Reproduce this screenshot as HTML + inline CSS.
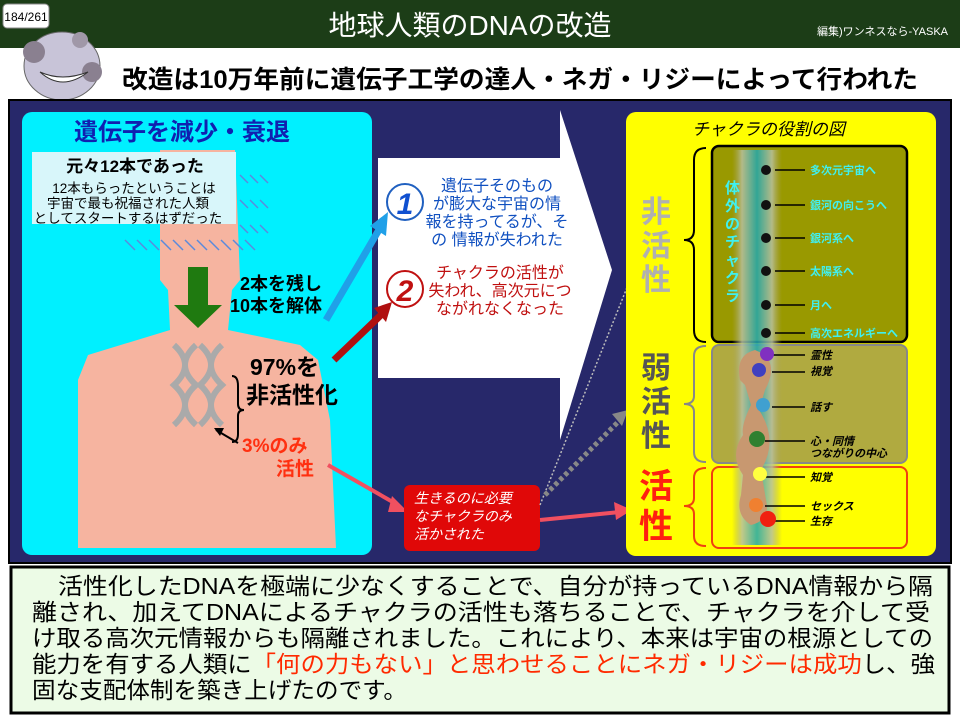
<!DOCTYPE html>
<html><head><meta charset="utf-8"><style>
html,body{margin:0;padding:0;background:#fff;}
svg{display:block;}
text{font-family:"Liberation Sans","Noto Sans CJK JP",sans-serif;}
</style></head><body>
<svg width="960" height="720" viewBox="0 0 960 720" xmlns="http://www.w3.org/2000/svg">
<defs>
<linearGradient id="col" x1="0" x2="1" y1="0" y2="0">
<stop offset="0" stop-color="#a8a060" stop-opacity="0"/>
<stop offset="0.2" stop-color="#b8c0a0"/>
<stop offset="0.5" stop-color="#20a8b0"/>
<stop offset="0.8" stop-color="#b8c0a0"/>
<stop offset="1" stop-color="#a8a060" stop-opacity="0"/>
</linearGradient>
</defs>
<rect x="0" y="0" width="960" height="48" fill="#1c3d17"/>
<g>
<ellipse cx="62" cy="66" rx="38" ry="34" fill="#c8c4d8" stroke="#666"/>
<circle cx="34" cy="52" r="11" fill="#8a8090"/><circle cx="92" cy="72" r="10" fill="#8a8090"/><circle cx="80" cy="40" r="8" fill="#a098a8"/>
<path d="M40 72 Q62 92 88 72 Q62 82 40 72Z" fill="#fff" stroke="#333"/>
</g>
<rect x="3" y="4" width="46" height="24" rx="4" fill="#fff" stroke="#888"/>
<text x="26" y="21" font-size="12" text-anchor="middle" fill="#000">184/261</text>
<text x="470" y="35" font-size="28" text-anchor="middle" fill="#fff">地球人類のDNAの改造</text>
<text x="948" y="35" font-size="11" text-anchor="end" fill="#fff">編集)ワンネスなら-YASKA</text>
<text x="122" y="88" font-size="25" font-weight="bold" fill="#000" textLength="796" lengthAdjust="spacingAndGlyphs">改造は10万年前に遺伝子工学の達人・ネガ・リジーによって行われた</text>
<rect x="9" y="100" width="942" height="463" fill="#27286a" stroke="#000" stroke-width="2"/>
<rect x="22" y="112" width="350" height="443" rx="10" fill="#00f0ff"/>
<path d="M160 150 L235 150 L240 280 L232 290 L228 330 L300 345 L318 360 L330 420 L336 548 L78 548 L78 380 L88 355 L170 330 L168 290 L160 280 Z" fill="#f6b4a0"/>
<rect x="32" y="152" width="204" height="72" fill="#d8f6fa"/>
<text x="135" y="172" font-size="17" font-weight="bold" text-anchor="middle" fill="#000">元々12本であった</text>
<text x="134" y="193" font-size="13.5" text-anchor="middle" fill="#000">12本もらったということは</text>
<text x="128" y="208" font-size="13.5" text-anchor="middle" fill="#000">宇宙で最も祝福された人類</text>
<text x="128" y="223" font-size="13.5" text-anchor="middle" fill="#000">としてスタートするはずだった</text>
<g stroke="#5a8adc" stroke-width="1.5" fill="none">
<path d="M125 240 l10 10 m2 -10 l10 10 m2 -10 l10 10 m2 -10 l10 10 m2 -10 l10 10 m2 -10 l10 10 m2 -10 l10 10 m2 -10 l10 10 m2 -10 l10 10 m2 -10 l10 10 m2 -10 l10 10"/>
<path d="M240 175 l8 8 m2 -8 l8 8 m2 -8 l8 8 M240 200 l8 8 m2 -8 l8 8 m2 -8 l8 8 M240 225 l8 8 m2 -8 l8 8 m2 -8 l8 8"/>
</g>
<text x="74" y="140" font-size="24" font-weight="bold" fill="#1020b0">遺伝子を減少・衰退</text>
<path d="M188 267 L208 267 L208 305 L222 305 L198 328 L174 305 L188 305 Z" fill="#1f7a10"/>
<text x="322" y="290" font-size="18" font-weight="bold" text-anchor="end" fill="#000">2本を残し</text>
<text x="322" y="312" font-size="18" font-weight="bold" text-anchor="end" fill="#000">10本を解体</text>
<path d="M174 345 Q196 365 174 385 Q196 405 174 425 M196 345 Q174 365 196 385 Q174 405 196 425 M200 345 Q222 365 200 385 Q222 405 200 425 M222 345 Q200 365 222 385 Q200 405 222 425" stroke="#aaa" stroke-width="6" fill="none"/>
<path d="M232 376 q6 0 6 10 l0 18 q0 6 6 6 q-6 0 -6 6 l0 18 q0 8 -6 8" stroke="#000" stroke-width="2" fill="none"/>
<text x="250" y="375" font-size="23" font-weight="bold" fill="#000">97%を</text>
<text x="246" y="403" font-size="23" font-weight="bold" fill="#000">非活性化</text>
<path d="M238 443 L216 430" stroke="#000" stroke-width="2"/><path d="M214 428 l10 0 l-4 8z" fill="#000"/>
<text x="242" y="452" font-size="19" font-weight="bold" fill="#ff3010">3%のみ</text>
<text x="276" y="475" font-size="19" font-weight="bold" fill="#ff3010">活性</text>
<path d="M378 158 L560 158 L560 110 L612 270 L560 440 L560 378 L378 378 Z" fill="#fff"/>
<path d="M326 320 L380 228" stroke="#20a0e8" stroke-width="7"/><path d="M388 212 L370 226 L386 236Z" fill="#20a0e8"/>
<path d="M334 360 L382 314" stroke="#b01010" stroke-width="7"/><path d="M392 302 L374 308 L386 322Z" fill="#b01010"/>
<circle cx="405" cy="202" r="18" fill="#fff" stroke="#2060c0" stroke-width="2"/>
<text x="405" y="214" font-size="30" font-weight="bold" font-style="italic" text-anchor="middle" fill="#1050d0">1</text>
<circle cx="405" cy="289" r="18" fill="#fff" stroke="#c01010" stroke-width="2"/>
<text x="405" y="301" font-size="30" font-weight="bold" font-style="italic" text-anchor="middle" fill="#c01010">2</text>
<g font-size="16" fill="#1050c0" text-anchor="middle">
<text x="497" y="191">遺伝子そのもの</text><text x="497" y="209">が膨大な宇宙の情</text><text x="497" y="227">報を持ってるが、そ</text><text x="497" y="245">の 情報が失われた</text>
</g>
<g font-size="16" fill="#c01010" text-anchor="middle">
<text x="500" y="278">チャクラの活性が</text><text x="500" y="296">失われ、高次元につ</text><text x="500" y="314">ながれなくなった</text>
</g>
<path d="M328 465 L398 505" stroke="#f05060" stroke-width="4"/><path d="M408 512 L392 496 L388 512Z" fill="#f05060"/>
<rect x="404" y="485" width="136" height="66" rx="6" fill="#e00808"/>
<g font-size="14" font-style="italic" fill="#fff"><text x="414" y="503">生きるのに必要</text><text x="414" y="521">なチャクラのみ</text><text x="414" y="539">活かされた</text></g>
<path d="M540 520 L620 512" stroke="#f05060" stroke-width="4"/><path d="M632 510 L614 502 L616 520Z" fill="#f05060"/>
<path d="M540 505 L640 255" stroke="#bbb" stroke-width="1.5" stroke-dasharray="2 2"/>
<path d="M545 495 L620 420" stroke="#888" stroke-width="5" stroke-dasharray="4 3"/><path d="M628 410 L612 414 L622 426Z" fill="#888"/>
<rect x="626" y="112" width="310" height="444" rx="10" fill="#ffff00"/>
<text x="692" y="135" font-size="17" font-style="italic" fill="#000">チャクラの役割の図</text>
<rect x="712" y="146" width="195" height="196" rx="7" fill="#999900" stroke="#000" stroke-width="2.5"/>
<rect x="712" y="345" width="195" height="118" rx="7" fill="#b0aa40" stroke="#888" stroke-width="2"/>
<rect x="712" y="467" width="195" height="81" rx="7" fill="#ffff00" stroke="#f04010" stroke-width="2"/>
<rect x="732" y="150" width="50" height="395" fill="url(#col)" opacity="0.85"/>
<path d="M755 350 q-20 5 -15 30 l5 5 l6 20 q-10 20 -8 30 q-14 20 0 40 l-2 20 q-6 20 10 30 q20 -5 15 -25 l-5 -30 q18 -30 -2 -60 l6 -20 q16 -30 -10 -40z" fill="#c89870"/>
<g font-size="15" font-weight="bold" fill="#40f0f0"><text x="725" y="193">体</text><text x="725" y="211">外</text><text x="725" y="229">の</text><text x="725" y="247">チ</text><text x="725" y="265">ャ</text><text x="725" y="283">ク</text><text x="725" y="301">ラ</text></g>
<path d="M775 170 H805 M775 205 H805 M775 238 H805 M775 271 H805 M775 305 H805 M775 333 H805 M772 355 H805 M772 372 H805 M772 407 H805 M765 441 H805 M765 477 H805 M765 506 H805 M765 521 H805" stroke="#000" stroke-width="1.5"/>
<g fill="#111"><circle cx="766" cy="170" r="5"/><circle cx="766" cy="205" r="5"/><circle cx="766" cy="238" r="5"/><circle cx="766" cy="271" r="5"/><circle cx="766" cy="305" r="5"/><circle cx="766" cy="333" r="5"/></g>
<circle cx="767" cy="354" r="7" fill="#8030c0"/><circle cx="759" cy="370" r="7" fill="#4040c0"/><circle cx="763" cy="405" r="7" fill="#40a0d0"/><circle cx="757" cy="439" r="8" fill="#308030"/><circle cx="760" cy="474" r="7" fill="#ffff40"/><circle cx="756" cy="505" r="7" fill="#f08030"/><circle cx="768" cy="519" r="8" fill="#f02010"/>
<g font-size="11" font-weight="bold" fill="#40f0f0"><text x="810" y="174">多次元宇宙へ</text><text x="810" y="209">銀河の向こうへ</text><text x="810" y="242">銀河系へ</text><text x="810" y="275">太陽系へ</text><text x="810" y="309">月へ</text><text x="810" y="337">高次エネルギーへ</text></g>
<g font-size="11" font-weight="bold" font-style="italic" fill="#000"><text x="810" y="359">霊性</text><text x="810" y="375">視覚</text><text x="810" y="411">話す</text><text x="810" y="445">心・同情</text><text x="810" y="457">つながりの中心</text><text x="810" y="481">知覚</text><text x="810" y="510">セックス</text><text x="810" y="525">生存</text></g>
<path d="M706 148 q-12 0 -12 12 l0 70 q0 10 -10 10 q10 0 10 10 l0 80 q0 12 12 12" stroke="#000" stroke-width="2" fill="none"/>
<path d="M706 346 q-12 0 -12 10 l0 40 q0 8 -10 8 q10 0 10 8 l0 40 q0 10 12 10" stroke="#888" stroke-width="2" fill="none"/>
<path d="M706 468 q-12 0 -12 10 l0 20 q0 8 -10 8 q10 0 10 8 l0 22 q0 10 12 10" stroke="#f04010" stroke-width="2" fill="none"/>
<g font-size="30" font-weight="bold" text-anchor="middle"><text x="656" y="222" fill="#b0b0b0">非</text><text x="656" y="256" fill="#b0b0b0">活</text><text x="656" y="290" fill="#b0b0b0">性</text>
<text x="656" y="378" fill="#555">弱</text><text x="656" y="412" fill="#555">活</text><text x="656" y="446" fill="#555">性</text>
<text x="656" y="498" fill="#ff2010" font-size="34">活</text><text x="656" y="538" fill="#ff2010" font-size="34">性</text></g>
<rect x="11" y="567" width="938" height="146" fill="#ecfbe6" stroke="#000" stroke-width="3"/>
<g font-size="23" fill="#000">
<text x="58" y="594" textLength="875" lengthAdjust="spacingAndGlyphs">活性化したDNAを極端に少なくすることで、自分が持っているDNA情報から隔</text>
<text x="32" y="620" textLength="898" lengthAdjust="spacingAndGlyphs">離され、加えてDNAによるチャクラの活性も落ちることで、チャクラを介して受</text>
<text x="32" y="646" textLength="901" lengthAdjust="spacingAndGlyphs">け取る高次元情報からも隔離されました。これにより、本来は宇宙の根源としての</text>
<text x="32" y="672" textLength="903" lengthAdjust="spacingAndGlyphs">能力を有する人類に<tspan fill="#ff2a00">「何の力もない」と思わせることにネガ・リジーは成功</tspan>し、強</text>
<text x="32" y="698" textLength="375" lengthAdjust="spacingAndGlyphs">固な支配体制を築き上げたのです。</text>
</g>
</svg>
</body></html>
